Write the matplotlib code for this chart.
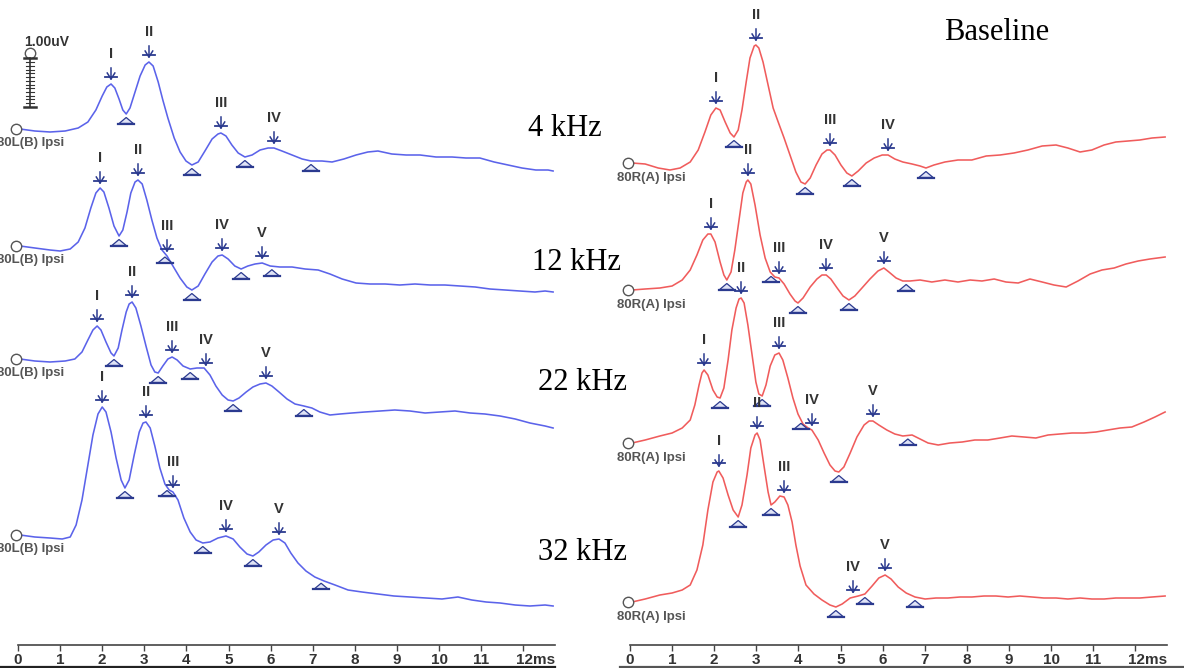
import numpy as np
import matplotlib.pyplot as plt
from matplotlib.transforms import ScaledTranslation

# ABR recordings (latency in ms, amplitude in uV relative to the start of each sweep)
# ---- left ear, 80L(B) Ipsi ----
t_L4 = [0.05, 0.40, 0.76, 1.12, 1.43, 1.66, 1.85, 2.00, 2.11, 2.21, 2.30, 2.40, 2.49, 2.57, 2.66, 2.78,
        2.90, 3.02, 3.11, 3.21, 3.33, 3.44, 3.56, 3.71, 3.85, 3.99, 4.13, 4.28, 4.44, 4.61, 4.75, 4.82,
        4.94, 5.08, 5.23, 5.39, 5.56, 5.75, 5.94, 6.08, 6.27, 6.51, 6.75, 6.96, 7.22, 7.46, 7.74, 8.03,
        8.31, 8.55, 8.88, 9.22, 9.55, 9.93, 10.31, 10.64, 10.97, 11.31, 11.64, 11.97, 12.30, 12.59, 12.71]
v_L4 = [0.00, -0.04, -0.06, -0.04, 0.02, 0.14, 0.38, 0.66, 0.84, 0.90, 0.82, 0.60, 0.38, 0.30, 0.42, 0.74,
        1.06, 1.28, 1.34, 1.26, 0.94, 0.58, 0.22, -0.18, -0.46, -0.64, -0.72, -0.66, -0.44, -0.20, -0.10, -0.08,
        -0.14, -0.32, -0.48, -0.56, -0.52, -0.42, -0.38, -0.38, -0.44, -0.52, -0.60, -0.64, -0.64, -0.66, -0.60, -0.52,
        -0.46, -0.44, -0.50, -0.52, -0.52, -0.56, -0.56, -0.58, -0.58, -0.66, -0.72, -0.78, -0.82, -0.82, -0.84]
pk_L4 = [2.21, 3.11, 4.82, 6.08]
pn_L4 = ['I', 'II', 'III', 'IV']
tr_L4 = [2.57, 4.13, 5.39, 6.96]

t_L12 = [0.05, 0.40, 0.76, 1.00, 1.24, 1.43, 1.59, 1.73, 1.85, 1.95, 2.04, 2.16, 2.28, 2.40, 2.49, 2.59,
         2.68, 2.78, 2.85, 2.95, 3.06, 3.18, 3.30, 3.42, 3.54, 3.68, 3.85, 4.01, 4.13, 4.28, 4.44, 4.61,
         4.75, 4.85, 4.99, 5.15, 5.30, 5.46, 5.63, 5.80, 5.99, 6.22, 6.51, 6.82, 7.13, 7.41, 7.70, 8.03,
         8.36, 8.72, 9.07, 9.43, 9.79, 10.14, 10.50, 10.86, 11.21, 11.57, 11.92, 12.28, 12.52, 12.71]
v_L12 = [0.00, -0.04, -0.08, -0.10, -0.06, 0.08, 0.36, 0.76, 1.06, 1.16, 1.08, 0.76, 0.40, 0.20, 0.32, 0.68,
         1.06, 1.28, 1.32, 1.24, 0.92, 0.52, 0.16, -0.08, -0.20, -0.40, -0.64, -0.82, -0.88, -0.80, -0.56, -0.32,
         -0.20, -0.18, -0.26, -0.40, -0.46, -0.40, -0.36, -0.34, -0.40, -0.42, -0.42, -0.46, -0.48, -0.56, -0.66, -0.74,
         -0.76, -0.76, -0.78, -0.76, -0.78, -0.78, -0.80, -0.82, -0.86, -0.88, -0.90, -0.92, -0.90, -0.92]
pk_L12 = [1.95, 2.85, 3.54, 4.85, 5.80]
pn_L12 = ['I', 'II', 'III', 'IV', 'V']
tr_L12 = [2.40, 3.49, 4.13, 5.30, 6.03]

t_L22 = [0.05, 0.40, 0.76, 1.12, 1.35, 1.52, 1.66, 1.78, 1.88, 1.97, 2.09, 2.21, 2.28, 2.38, 2.47, 2.57,
         2.64, 2.71, 2.80, 2.92, 3.04, 3.16, 3.25, 3.33, 3.44, 3.56, 3.66, 3.78, 3.92, 4.09, 4.25, 4.42,
         4.56, 4.70, 4.85, 4.99, 5.11, 5.25, 5.42, 5.58, 5.75, 5.89, 6.03, 6.20, 6.39, 6.58, 6.79, 6.98,
         7.17, 7.41, 7.65, 7.93, 8.24, 8.60, 8.95, 9.31, 9.67, 10.02, 10.38, 10.74, 11.09, 11.45, 11.81,
         12.16, 12.52, 12.71]
v_L22 = [0.00, -0.04, -0.06, -0.04, 0.00, 0.14, 0.38, 0.58, 0.66, 0.58, 0.34, 0.12, 0.06, 0.22, 0.58, 0.94,
         1.10, 1.14, 1.02, 0.66, 0.26, -0.12, -0.26, -0.28, -0.14, 0.00, 0.04, -0.02, -0.14, -0.20, -0.18, -0.18,
         -0.32, -0.54, -0.72, -0.82, -0.84, -0.78, -0.66, -0.56, -0.50, -0.48, -0.54, -0.66, -0.80, -0.90, -0.94, -0.98,
         -1.06, -1.12, -1.10, -1.08, -1.06, -1.04, -1.02, -1.04, -1.08, -1.06, -1.04, -1.08, -1.10, -1.14, -1.20,
         -1.28, -1.34, -1.38]
pk_L22 = [1.88, 2.71, 3.66, 4.46, 5.89]
pn_L22 = ['I', 'II', 'III', 'IV', 'V']
tr_L22 = [2.28, 3.33, 4.09, 5.11, 6.79]

t_L32 = [0.05, 0.40, 0.76, 1.05, 1.24, 1.38, 1.52, 1.66, 1.78, 1.90, 2.00, 2.09, 2.21, 2.33, 2.45, 2.54,
         2.64, 2.76, 2.88, 2.97, 3.04, 3.14, 3.25, 3.37, 3.49, 3.59, 3.68, 3.80, 3.94, 4.09, 4.23, 4.39,
         4.56, 4.75, 4.94, 5.11, 5.27, 5.44, 5.58, 5.72, 5.89, 6.06, 6.20, 6.34, 6.48, 6.65, 6.84, 7.05,
         7.27, 7.53, 7.84, 8.17, 8.55, 8.93, 9.31, 9.69, 10.07, 10.45, 10.78, 11.12, 11.45, 11.81, 12.16,
         12.52, 12.71]
v_L32 = [0.00, -0.04, -0.06, -0.08, -0.04, 0.20, 0.70, 1.40, 2.00, 2.42, 2.56, 2.46, 2.06, 1.54, 1.10, 0.94,
         1.10, 1.60, 2.06, 2.24, 2.26, 2.14, 1.78, 1.34, 1.02, 0.90, 0.86, 0.70, 0.34, 0.06, -0.10, -0.16,
         -0.14, -0.06, -0.02, -0.08, -0.24, -0.38, -0.42, -0.34, -0.20, -0.10, -0.08, -0.16, -0.36, -0.56, -0.72, -0.84,
         -0.92, -1.00, -1.10, -1.14, -1.18, -1.22, -1.24, -1.26, -1.28, -1.24, -1.30, -1.34, -1.36, -1.40, -1.42,
         -1.40, -1.42]
pk_L32 = [2.00, 3.04, 3.68, 4.94, 6.20]
pn_L32 = ['I', 'II', 'III', 'IV', 'V']
tr_L32 = [2.54, 3.54, 4.39, 5.58, 7.20]

# ---- right ear, 80R(A) Ipsi ----
t_R4 = [0.05, 0.36, 0.67, 0.95, 1.19, 1.43, 1.62, 1.78, 1.92, 2.04, 2.14, 2.26, 2.38, 2.47, 2.57, 2.66,
        2.76, 2.85, 2.95, 2.99, 3.06, 3.16, 3.28, 3.40, 3.52, 3.66, 3.80, 3.94, 4.06, 4.16, 4.28, 4.42,
        4.56, 4.68, 4.75, 4.87, 5.01, 5.15, 5.27, 5.42, 5.61, 5.80, 5.99, 6.13, 6.29, 6.48, 6.70, 6.89,
        7.03, 7.22, 7.48, 7.79, 8.12, 8.46, 8.79, 9.12, 9.45, 9.79, 10.12, 10.40, 10.69, 10.97, 11.26,
        11.54, 11.83, 12.11, 12.40, 12.71]
v_R4 = [0.00, -0.02, -0.10, -0.14, -0.10, 0.02, 0.26, 0.62, 0.96, 1.10, 1.06, 0.82, 0.60, 0.52, 0.66, 1.06,
        1.62, 2.10, 2.34, 2.36, 2.30, 2.02, 1.56, 1.10, 0.82, 0.50, 0.16, -0.18, -0.38, -0.42, -0.30, -0.04,
        0.18, 0.26, 0.26, 0.16, -0.04, -0.20, -0.26, -0.16, 0.00, 0.10, 0.16, 0.16, 0.08, 0.02, -0.02, -0.06,
        -0.10, -0.04, 0.02, 0.06, 0.06, 0.14, 0.16, 0.20, 0.26, 0.34, 0.36, 0.30, 0.22, 0.26, 0.36,
        0.42, 0.44, 0.46, 0.50, 0.52]
pk_R4 = [2.04, 2.99, 4.75, 6.13]
pn_R4 = ['I', 'II', 'III', 'IV']
tr_R4 = [2.47, 4.16, 5.27, 7.03]

t_R12 = [0.05, 0.36, 0.71, 1.00, 1.24, 1.43, 1.59, 1.73, 1.85, 1.92, 2.02, 2.14, 2.23, 2.30, 2.40, 2.49,
         2.59, 2.68, 2.76, 2.80, 2.87, 2.97, 3.09, 3.21, 3.33, 3.44, 3.54, 3.66, 3.80, 3.92, 3.99, 4.11,
         4.28, 4.44, 4.56, 4.66, 4.77, 4.92, 5.06, 5.20, 5.34, 5.51, 5.70, 5.89, 6.03, 6.15, 6.32, 6.48,
         6.65, 6.89, 7.17, 7.48, 7.79, 8.08, 8.36, 8.65, 8.93, 9.22, 9.50, 9.79, 10.07, 10.36, 10.64,
         10.93, 11.21, 11.50, 11.78, 12.07, 12.35, 12.71]
v_R12 = [0.00, 0.02, 0.04, 0.08, 0.20, 0.40, 0.70, 1.00, 1.12, 1.12, 0.96, 0.56, 0.30, 0.20, 0.36, 0.80,
         1.40, 1.94, 2.16, 2.20, 2.12, 1.70, 1.10, 0.64, 0.36, 0.26, 0.24, 0.12, -0.08, -0.22, -0.26, -0.16,
         0.06, 0.22, 0.30, 0.30, 0.22, 0.04, -0.12, -0.20, -0.12, 0.04, 0.22, 0.38, 0.44, 0.36, 0.24, 0.18,
         0.18, 0.20, 0.16, 0.20, 0.16, 0.20, 0.18, 0.22, 0.16, 0.14, 0.22, 0.16, 0.10, 0.06, 0.18,
         0.32, 0.40, 0.44, 0.52, 0.58, 0.62, 0.66]
pk_R12 = [1.92, 2.80, 3.54, 4.66, 6.03]
pn_R12 = ['I', 'II', 'III', 'IV', 'V']
tr_R12 = [2.30, 3.35, 3.99, 5.20, 6.56]

t_R22 = [0.05, 0.36, 0.71, 1.00, 1.24, 1.43, 1.54, 1.64, 1.71, 1.76, 1.85, 1.97, 2.07, 2.14, 2.23, 2.33,
         2.42, 2.52, 2.59, 2.64, 2.71, 2.80, 2.90, 2.99, 3.06, 3.14, 3.23, 3.33, 3.44, 3.54, 3.63, 3.75,
         3.87, 3.99, 4.11, 4.23, 4.32, 4.47, 4.61, 4.75, 4.87, 4.96, 5.08, 5.23, 5.39, 5.56, 5.68, 5.77,
         5.91, 6.10, 6.29, 6.48, 6.70, 6.89, 7.08, 7.32, 7.60, 7.89, 8.19, 8.50, 8.79, 9.07, 9.36,
         9.64, 9.93, 10.21, 10.50, 10.78, 11.07, 11.35, 11.64, 11.92, 12.21, 12.47, 12.71]
v_R22 = [0.00, 0.06, 0.14, 0.20, 0.30, 0.46, 0.76, 1.16, 1.40, 1.46, 1.36, 1.06, 0.92, 0.90, 1.10, 1.66,
         2.26, 2.70, 2.88, 2.90, 2.80, 2.36, 1.76, 1.22, 0.98, 0.94, 1.16, 1.54, 1.76, 1.80, 1.66, 1.30,
         0.90, 0.58, 0.38, 0.30, 0.26, 0.06, -0.20, -0.44, -0.56, -0.58, -0.48, -0.20, 0.12, 0.36, 0.44, 0.44,
         0.36, 0.26, 0.18, 0.14, 0.16, 0.08, 0.00, -0.04, 0.00, 0.02, 0.06, 0.06, 0.10, 0.14, 0.12,
         0.10, 0.16, 0.18, 0.20, 0.20, 0.22, 0.26, 0.30, 0.32, 0.42, 0.52, 0.62]
pk_R22 = [1.76, 2.64, 3.54, 4.32, 5.77]
pn_R22 = ['I', 'II', 'III', 'IV', 'V']
tr_R22 = [2.14, 3.14, 4.06, 4.96, 6.60]

t_R32 = [0.05, 0.36, 0.71, 1.00, 1.24, 1.43, 1.59, 1.73, 1.85, 1.97, 2.07, 2.11, 2.21, 2.33, 2.45, 2.57,
         2.66, 2.78, 2.87, 2.97, 3.02, 3.09, 3.18, 3.28, 3.35, 3.44, 3.56, 3.66, 3.75, 3.85, 3.94, 4.04,
         4.18, 4.37, 4.56, 4.75, 4.89, 5.04, 5.23, 5.42, 5.58, 5.75, 5.91, 6.06, 6.20, 6.37, 6.56, 6.77,
         7.01, 7.27, 7.55, 7.84, 8.12, 8.41, 8.69, 8.98, 9.26, 9.55, 9.83, 10.12, 10.40, 10.69, 10.97,
         11.26, 11.54, 11.83, 12.11, 12.40, 12.71]
v_R32 = [0.00, 0.06, 0.14, 0.18, 0.24, 0.34, 0.64, 1.14, 1.84, 2.40, 2.60, 2.62, 2.48, 2.14, 1.84, 1.70,
         1.94, 2.54, 3.08, 3.34, 3.38, 3.24, 2.74, 2.20, 1.94, 2.00, 2.12, 2.10, 1.94, 1.60, 1.14, 0.72,
         0.34, 0.16, 0.04, -0.06, -0.10, -0.04, 0.08, 0.12, 0.16, 0.32, 0.48, 0.54, 0.46, 0.30, 0.18, 0.10,
         0.06, 0.08, 0.08, 0.10, 0.10, 0.12, 0.12, 0.10, 0.12, 0.10, 0.08, 0.08, 0.06, 0.08, 0.06,
         0.06, 0.08, 0.08, 0.08, 0.10, 0.12]
pk_R32 = [2.11, 3.02, 3.66, 5.30, 6.06]
pn_R32 = ['I', 'II', 'III', 'IV', 'V']
tr_R32 = [2.57, 3.35, 4.89, 5.58, 6.77]

left_traces = [(t_L4, v_L4, pk_L4, pn_L4, tr_L4), (t_L12, v_L12, pk_L12, pn_L12, tr_L12),
               (t_L22, v_L22, pk_L22, pn_L22, tr_L22), (t_L32, v_L32, pk_L32, pn_L32, tr_L32)]
right_traces = [(t_R4, v_R4, pk_R4, pn_R4, tr_R4), (t_R12, v_R12, pk_R12, pn_R12, tr_R12),
                (t_R22, v_R22, pk_R22, pn_R22, tr_R22), (t_R32, v_R32, pk_R32, pn_R32, tr_R32)]
freq_labels = ['4 kHz', '12 kHz', '22 kHz', '32 kHz']
ms_ticks = list(range(13))
ms_ticklabels = [str(k) for k in range(12)] + ['12ms']

# vertical position of each sweep on the page (uV)
left_base = [-2.58, -4.92, -7.18, -10.70]
right_base = [-3.26, -5.80, -8.86, -12.04]
AXIS_Y = -12.9

BLUE = '#5b63ea'
RED = '#f05c5c'
NAVY = '#2b3a8f'
SANS = ['Liberation Sans', 'DejaVu Sans']
SERIF = ['Liberation Serif', 'DejaVu Serif']

W, H = 1184, 668
fig = plt.figure(figsize=(W / 100, H / 100), dpi=100)
fig.patch.set_facecolor('white')

PX_MS = 42.1   # pixels per ms
PX_UV = 50.0   # pixels per uV
axL = fig.add_axes([0, 0, 600 / W, 1])
axR = fig.add_axes([600 / W, 0, 584 / W, 1])
axL.set_xlim(-18 / PX_MS, 582 / PX_MS)
axR.set_xlim(-30 / PX_MS, 554 / PX_MS)
for ax in (axL, axR):
    ax.set_ylim(-H / PX_UV, 0)
    ax.set_facecolor('none')


def draw_sweep(ax, t, v, base, color, peaks, names, troughs):
    t = np.asarray(t)
    y = base + np.asarray(v)
    ax.plot(t, y, color=color, lw=1.15, solid_joinstyle='round', zorder=2)
    for pt, name in zip(peaks, names):
        py = np.interp(pt, t, y)
        tip = py + 0.10
        ax.plot([pt, pt], [tip, tip + 0.22], color=NAVY, lw=1.1, zorder=3)
        ax.plot([pt - 0.14, pt + 0.14], [tip + 0.05, tip + 0.05], color=NAVY, lw=1.3, zorder=3)
        ax.plot([pt - 0.09, pt, pt + 0.09], [tip + 0.12, tip, tip + 0.12], color=NAVY, lw=1.1, zorder=3)
        ax.text(pt, py + 0.6, name, ha='center', va='center', fontsize=10.5,
                fontweight='bold', color='#333333', family=SANS)
    for tt in troughs:
        ty = np.interp(tt, t, y)
        ax.fill([tt - 0.17, tt, tt + 0.17], [ty - 0.19, ty - 0.07, ty - 0.19],
                facecolor='#dfe3f6', edgecolor=NAVY, lw=0.9, zorder=3)
        ax.plot([tt - 0.19, tt + 0.19], [ty - 0.19, ty - 0.19], color=NAVY, lw=1.6, zorder=3)
    # start-of-sweep circle
    ax.plot([-0.04], [base], 'o', ms=7.5, mfc='white', mec='#555555', mew=1.0, zorder=4)


for (t, v, pk, pn, tr), b in zip(left_traces, left_base):
    draw_sweep(axL, t, v, b, BLUE, pk, pn, tr)
    axL.text(-0.50, b - 0.28, '80L(B) Ipsi', ha='left', va='center', fontsize=9.5,
             fontweight='bold', color='#555555', family=SANS)
for (t, v, pk, pn, tr), b in zip(right_traces, right_base):
    draw_sweep(axR, t, v, b, RED, pk, pn, tr)
    axR.text(-0.31, b - 0.30, '80R(A) Ipsi', ha='left', va='center', fontsize=9.5,
             fontweight='bold', color='#555555', family=SANS)

# 1 uV calibration ladder
sx = 0.285
axL.plot([sx], [-1.06], 'o', ms=7.5, mfc='white', mec='#555555', mew=1.0)
axL.plot([sx, sx], [-1.16, -2.14], color='#333333', lw=1.2)
for yy in np.arange(-1.24, -2.10, -0.075):
    axL.plot([sx - 0.1, sx + 0.1], [yy, yy], color='#333333', lw=0.8)
for yy in (-1.16, -2.14):
    axL.plot([sx - 0.14, sx + 0.14], [yy, yy], color='#333333', lw=1.8)
axL.text(0.15, -0.84, '1.00uV', ha='left', va='center', fontsize=10,
         fontweight='bold', color='#333333', family=SANS)

# time axis under each panel
for ax in (axL, axR):
    for s in ('top', 'left', 'right'):
        ax.spines[s].set_visible(False)
    ax.spines['bottom'].set_position(('data', AXIS_Y))
    ax.spines['bottom'].set_bounds(0, 12.75)
    ax.spines['bottom'].set_color('#444444')
    ax.spines['bottom'].set_linewidth(1.2)
    ax.set_yticks([])
    ax.set_xticks(ms_ticks)
    ax.set_xticklabels(ms_ticklabels, fontsize=11, fontweight='bold',
                       color='#333333', family=SANS)
    ax.tick_params(axis='x', direction='out', length=4, width=1, color='#444444', pad=1.5)
    last = ax.get_xticklabels()[-1]
    last.set_horizontalalignment('left')
    last.set_transform(last.get_transform() + ScaledTranslation(-7 / 100, 0, fig.dpi_scale_trans))

# stimulus frequency and condition labels
freq_pos = [(565, 128), (577, 263), (583, 382), (583, 552)]
for lab, (px, py) in zip(freq_labels, freq_pos):
    fig.text(px / W, 1 - py / H, lab, ha='center', va='center', fontsize=22,
             family=SERIF, color='black')
fig.text(997 / W, 1 - 33 / H, 'Baseline', ha='center', va='center', fontsize=22,
         family=SERIF, color='black')

# dark edge along the bottom of the page
fig.add_artist(plt.Line2D([0, 555 / W], [0.6 / H, 0.6 / H], color='#222222', lw=1.6,
                          transform=fig.transFigure))
fig.add_artist(plt.Line2D([620 / W, 1], [0.6 / H, 0.6 / H], color='#555555', lw=1.6,
                          transform=fig.transFigure))

fig.savefig('out.png', dpi=100, facecolor='white')
